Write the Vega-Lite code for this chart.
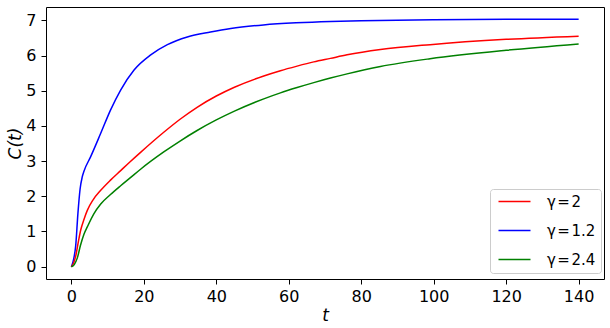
{
  "$schema": "https://vega.github.io/schema/vega-lite/v6.json",
  "width": 558,
  "height": 272,
  "autosize": {"type": "none"},
  "padding": {"left": 46, "top": 7, "right": 6, "bottom": 49},
  "background": "white",
  "config": {
    "view": {"stroke": "black", "strokeWidth": 1},
    "font": "DejaVu Sans",
    "axis": {
      "grid": false,
      "domain": false,
      "tickColor": "black",
      "tickSize": 5,
      "tickWidth": 1,
      "labelFont": "DejaVu Sans",
      "labelFontSize": 16,
      "labelColor": "black",
      "labelPadding": 4,
      "titleFont": "DejaVu Sans",
      "titleFontSize": 17,
      "titleFontWeight": "normal",
      "titleColor": "black"
    }
  },
  "data": {
    "values": [
      {"t": 0, "C": 0, "g": "γ = 1.2"},
      {"t": 0.6, "C": 0.2, "g": "γ = 1.2"},
      {"t": 1.2, "C": 0.6, "g": "γ = 1.2"},
      {"t": 1.8, "C": 1.5, "g": "γ = 1.2"},
      {"t": 2.4, "C": 2.2, "g": "γ = 1.2"},
      {"t": 3.0, "C": 2.55, "g": "γ = 1.2"},
      {"t": 3.5, "C": 2.72, "g": "γ = 1.2"},
      {"t": 5.3, "C": 3.12, "g": "γ = 1.2"},
      {"t": 8.1, "C": 3.79, "g": "γ = 1.2"},
      {"t": 10.8, "C": 4.45, "g": "γ = 1.2"},
      {"t": 13.6, "C": 5.02, "g": "γ = 1.2"},
      {"t": 17.3, "C": 5.59, "g": "γ = 1.2"},
      {"t": 21.9, "C": 6.02, "g": "γ = 1.2"},
      {"t": 26.5, "C": 6.31, "g": "γ = 1.2"},
      {"t": 32, "C": 6.53, "g": "γ = 1.2"},
      {"t": 38.4, "C": 6.67, "g": "γ = 1.2"},
      {"t": 44, "C": 6.77, "g": "γ = 1.2"},
      {"t": 53, "C": 6.87, "g": "γ = 1.2"},
      {"t": 62, "C": 6.93, "g": "γ = 1.2"},
      {"t": 71.5, "C": 6.97, "g": "γ = 1.2"},
      {"t": 80, "C": 6.99, "g": "γ = 1.2"},
      {"t": 100, "C": 7.02, "g": "γ = 1.2"},
      {"t": 120, "C": 7.03, "g": "γ = 1.2"},
      {"t": 140, "C": 7.03, "g": "γ = 1.2"},

      {"t": 0, "C": 0, "g": "γ = 2"},
      {"t": 0.6, "C": 0.1, "g": "γ = 2"},
      {"t": 1.2, "C": 0.3, "g": "γ = 2"},
      {"t": 2.0, "C": 0.75, "g": "γ = 2"},
      {"t": 2.6, "C": 1.05, "g": "γ = 2"},
      {"t": 3.5, "C": 1.35, "g": "γ = 2"},
      {"t": 4.4, "C": 1.6, "g": "γ = 2"},
      {"t": 6, "C": 1.9, "g": "γ = 2"},
      {"t": 8.1, "C": 2.17, "g": "γ = 2"},
      {"t": 10.8, "C": 2.46, "g": "γ = 2"},
      {"t": 13.6, "C": 2.73, "g": "γ = 2"},
      {"t": 16.3, "C": 2.99, "g": "γ = 2"},
      {"t": 19.1, "C": 3.25, "g": "γ = 2"},
      {"t": 25.5, "C": 3.82, "g": "γ = 2"},
      {"t": 30, "C": 4.19, "g": "γ = 2"},
      {"t": 34.7, "C": 4.53, "g": "γ = 2"},
      {"t": 40, "C": 4.85, "g": "γ = 2"},
      {"t": 45, "C": 5.1, "g": "γ = 2"},
      {"t": 53.1, "C": 5.42, "g": "γ = 2"},
      {"t": 57.7, "C": 5.57, "g": "γ = 2"},
      {"t": 62.3, "C": 5.7, "g": "γ = 2"},
      {"t": 66.9, "C": 5.82, "g": "γ = 2"},
      {"t": 71.5, "C": 5.92, "g": "γ = 2"},
      {"t": 76.1, "C": 6.02, "g": "γ = 2"},
      {"t": 85.3, "C": 6.17, "g": "γ = 2"},
      {"t": 99, "C": 6.31, "g": "γ = 2"},
      {"t": 120, "C": 6.46, "g": "γ = 2"},
      {"t": 140, "C": 6.55, "g": "γ = 2"},

      {"t": 0, "C": 0, "g": "γ = 2.4"},
      {"t": 0.8, "C": 0.06, "g": "γ = 2.4"},
      {"t": 1.65, "C": 0.25, "g": "γ = 2.4"},
      {"t": 2.5, "C": 0.6, "g": "γ = 2.4"},
      {"t": 3.5, "C": 0.93, "g": "γ = 2.4"},
      {"t": 4.4, "C": 1.13, "g": "γ = 2.4"},
      {"t": 6.2, "C": 1.5, "g": "γ = 2.4"},
      {"t": 8.1, "C": 1.78, "g": "γ = 2.4"},
      {"t": 10.8, "C": 2.05, "g": "γ = 2.4"},
      {"t": 13.6, "C": 2.3, "g": "γ = 2.4"},
      {"t": 16.3, "C": 2.53, "g": "γ = 2.4"},
      {"t": 19.1, "C": 2.77, "g": "γ = 2.4"},
      {"t": 25.5, "C": 3.26, "g": "γ = 2.4"},
      {"t": 30, "C": 3.57, "g": "γ = 2.4"},
      {"t": 34.7, "C": 3.87, "g": "γ = 2.4"},
      {"t": 40, "C": 4.17, "g": "γ = 2.4"},
      {"t": 45, "C": 4.42, "g": "γ = 2.4"},
      {"t": 53.1, "C": 4.77, "g": "γ = 2.4"},
      {"t": 57.7, "C": 4.94, "g": "γ = 2.4"},
      {"t": 62.3, "C": 5.09, "g": "γ = 2.4"},
      {"t": 66.9, "C": 5.23, "g": "γ = 2.4"},
      {"t": 71.5, "C": 5.36, "g": "γ = 2.4"},
      {"t": 76.1, "C": 5.48, "g": "γ = 2.4"},
      {"t": 85.3, "C": 5.69, "g": "γ = 2.4"},
      {"t": 99, "C": 5.91, "g": "γ = 2.4"},
      {"t": 120, "C": 6.15, "g": "γ = 2.4"},
      {"t": 140, "C": 6.33, "g": "γ = 2.4"}
    ]
  },
  "mark": {"type": "line", "strokeWidth": 1.5, "interpolate": "monotone"},
  "encoding": {
    "x": {
      "field": "t",
      "type": "quantitative",
      "scale": {"domain": [-7, 147], "nice": false, "zero": false},
      "axis": {"values": [0, 20, 40, 60, 80, 100, 120, 140], "title": "t", "titleFontStyle": "italic", "titlePadding": 3}
    },
    "y": {
      "field": "C",
      "type": "quantitative",
      "scale": {"domain": [-0.35, 7.38], "nice": false, "zero": false},
      "axis": {"values": [0, 1, 2, 3, 4, 5, 6, 7], "title": "C(t)", "titleFontStyle": "italic", "titlePadding": 1, "labelPadding": 5}
    },
    "color": {
      "field": "g",
      "type": "nominal",
      "scale": {"domain": ["γ = 2", "γ = 1.2", "γ = 2.4"], "range": ["#ff0000", "#0000ff", "#008000"]},
      "legend": {
        "title": null,
        "orient": "none",
        "legendX": 444,
        "legendY": 182,
        "fillColor": "white",
        "strokeColor": "#cccccc",
        "cornerRadius": 3,
        "padding": 5,
        "symbolType": "M-1,0H7",
        "symbolSize": 64,
        "symbolStrokeWidth": 1.5,
        "symbolFillColor": "transparent",
        "labelFont": "DejaVu Sans",
        "labelFontSize": 15,
        "labelColor": "black",
        "labelOffset": 37,
        "labelExpr": "replace(datum.label, / /g, '\u200a')",
        "rowPadding": 13
      }
    }
  }
}
